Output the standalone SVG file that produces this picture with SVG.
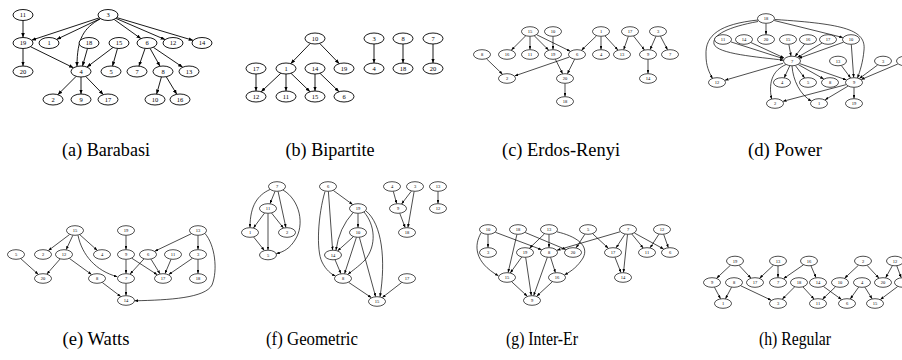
<svg xmlns="http://www.w3.org/2000/svg" width="902" height="360" viewBox="0 0 902 360">
<style>
.B ellipse{fill:#fff;stroke:#000;stroke-width:0.9}
.S ellipse{fill:#fff;stroke:#000;stroke-width:0.7}
.B text{font-size:6.5px;text-anchor:middle;fill:#000}
.S text{font-size:4.5px;text-anchor:middle;fill:#000}
.eb path{fill:none;stroke:#000;stroke-width:0.9;marker-end:url(#ab)}
.es path{fill:none;stroke:#000;stroke-width:0.7;marker-end:url(#as)}
.cap{font-size:18px;text-anchor:middle;fill:#000}
</style>
<defs>
<marker id="ab" viewBox="0 0 10 8" refX="10" refY="4" markerWidth="4.5" markerHeight="3.6" markerUnits="userSpaceOnUse" orient="auto"><path d="M0,0 L10,4 L0,8 z" fill="#000"/></marker>
<marker id="as" viewBox="0 0 10 8" refX="10" refY="4" markerWidth="3.5" markerHeight="2.8" markerUnits="userSpaceOnUse" orient="auto"><path d="M0,0 L10,4 L0,8 z" fill="#000"/></marker>
</defs>
<rect width="902" height="360" fill="#fff"/>
<g font-family="'Liberation Serif', 'Times New Roman', Times, serif">

<!-- (a) Barabasi -->
<g id="panel-a">
<g id="a-edges" class="eb">
<path d="M23,20.5 L23,37.5"/>
<path d="M99.4,17.8 L31.6,40.2"/>
<path d="M100.4,18.6 L56.6,39.4"/>
<path d="M100,19 C84,28 77,38 77,66.4"/>
<path d="M114.1,19.4 L140.9,38.6"/>
<path d="M115.9,18.4 L165.1,39.6"/>
<path d="M116.8,17.6 L193.2,40.4"/>
<path d="M23,48.5 L23,66"/>
<path d="M30.5,46.7 L73.5,67.8"/>
<path d="M87.5,48.4 L82.5,66.1"/>
<path d="M113.1,47.4 L86.9,67.1"/>
<path d="M117.5,48.4 L112.5,66.1"/>
<path d="M145.1,48.4 L138.9,66.1"/>
<path d="M150,48.3 L160,66.2"/>
<path d="M153.3,47.3 L182.7,67.2"/>
<path d="M76.2,76.3 L57.8,94.7"/>
<path d="M81,77 L81,94"/>
<path d="M85.7,76.4 L103.3,94.6"/>
<path d="M161.4,77 L156.6,94.1"/>
<path d="M166.2,76.7 L176.8,94.3"/>
</g>
<g class="B">
<g id="a11"><ellipse cx="23" cy="15" rx="10" ry="5.5"/><text x="23" y="17.2">11</text></g>
<g id="a3"><ellipse cx="108" cy="15" rx="10" ry="5.5"/><text x="108" y="17.2">3</text></g>
<g id="a19"><ellipse cx="23" cy="43" rx="10" ry="5.5"/><text x="23" y="45.2">19</text></g>
<g id="a1"><ellipse cx="49" cy="43" rx="10" ry="5.5"/><text x="49" y="45.2">1</text></g>
<g id="a18"><ellipse cx="89" cy="43" rx="10" ry="5.5"/><text x="89" y="45.2">18</text></g>
<g id="a15"><ellipse cx="119" cy="43" rx="10" ry="5.5"/><text x="119" y="45.2">15</text></g>
<g id="a6"><ellipse cx="147" cy="43" rx="10" ry="5.5"/><text x="147" y="45.2">6</text></g>
<g id="a12"><ellipse cx="173" cy="43" rx="10" ry="5.5"/><text x="173" y="45.2">12</text></g>
<g id="a14"><ellipse cx="202" cy="43" rx="10" ry="5.5"/><text x="202" y="45.2">14</text></g>
<g id="a20"><ellipse cx="23" cy="71.5" rx="10" ry="5.5"/><text x="23" y="73.7">20</text></g>
<g id="a4"><ellipse cx="81" cy="71.5" rx="10" ry="5.5"/><text x="81" y="73.7">4</text></g>
<g id="a5"><ellipse cx="111" cy="71.5" rx="10" ry="5.5"/><text x="111" y="73.7">5</text></g>
<g id="a7"><ellipse cx="137" cy="71.5" rx="10" ry="5.5"/><text x="137" y="73.7">7</text></g>
<g id="a8"><ellipse cx="163" cy="71.5" rx="10" ry="5.5"/><text x="163" y="73.7">8</text></g>
<g id="a13"><ellipse cx="189" cy="71.5" rx="10" ry="5.5"/><text x="189" y="73.7">13</text></g>
<g id="a2"><ellipse cx="53" cy="99.5" rx="10" ry="5.5"/><text x="53" y="101.7">2</text></g>
<g id="a9"><ellipse cx="81" cy="99.5" rx="10" ry="5.5"/><text x="81" y="101.7">9</text></g>
<g id="a17"><ellipse cx="108" cy="99.5" rx="10" ry="5.5"/><text x="108" y="101.7">17</text></g>
<g id="a10"><ellipse cx="155" cy="99.5" rx="10" ry="5.5"/><text x="155" y="101.7">10</text></g>
<g id="a16"><ellipse cx="180" cy="99.5" rx="10" ry="5.5"/><text x="180" y="101.7">16</text></g>
</g>
<text class="cap" x="106" y="156" textLength="88" lengthAdjust="spacingAndGlyphs">(a) Barabasi</text>
</g>

<!-- (b) Bipartite -->
<g id="panel-b">
<g id="b-edges" class="eb">
<path d="M310.3,43.4 L290.7,63.7"/>
<path d="M319.7,43.4 L339.3,63.7"/>
<path d="M374,44 L374,63"/>
<path d="M403,44 L403,63"/>
<path d="M433,44 L433,63"/>
<path d="M256,74 L256,91"/>
<path d="M280.9,73.2 L261.1,91.8"/>
<path d="M286,74 L286,91"/>
<path d="M291,73.3 L310,91.7"/>
<path d="M315,74 L315,91"/>
<path d="M320,73.3 L339,91.7"/>
</g>
<g class="B">
<g id="b10"><ellipse cx="315" cy="38.5" rx="10" ry="5.5"/><text x="315" y="40.7">10</text></g>
<g id="b3"><ellipse cx="374" cy="38.5" rx="10" ry="5.5"/><text x="374" y="40.7">3</text></g>
<g id="b8"><ellipse cx="403" cy="38.5" rx="10" ry="5.5"/><text x="403" y="40.7">8</text></g>
<g id="b7"><ellipse cx="433" cy="38.5" rx="10" ry="5.5"/><text x="433" y="40.7">7</text></g>
<g id="b17"><ellipse cx="256" cy="68.5" rx="10" ry="5.5"/><text x="256" y="70.7">17</text></g>
<g id="b1"><ellipse cx="286" cy="68.5" rx="10" ry="5.5"/><text x="286" y="70.7">1</text></g>
<g id="b14"><ellipse cx="315" cy="68.5" rx="10" ry="5.5"/><text x="315" y="70.7">14</text></g>
<g id="b19"><ellipse cx="344" cy="68.5" rx="10" ry="5.5"/><text x="344" y="70.7">19</text></g>
<g id="b4"><ellipse cx="374" cy="68.5" rx="10" ry="5.5"/><text x="374" y="70.7">4</text></g>
<g id="b18"><ellipse cx="403" cy="68.5" rx="10" ry="5.5"/><text x="403" y="70.7">18</text></g>
<g id="b20"><ellipse cx="433" cy="68.5" rx="10" ry="5.5"/><text x="433" y="70.7">20</text></g>
<g id="b12"><ellipse cx="256" cy="96.5" rx="10" ry="5.5"/><text x="256" y="98.7">12</text></g>
<g id="b11"><ellipse cx="286" cy="96.5" rx="10" ry="5.5"/><text x="286" y="98.7">11</text></g>
<g id="b15"><ellipse cx="315" cy="96.5" rx="10" ry="5.5"/><text x="315" y="98.7">15</text></g>
<g id="b6"><ellipse cx="344" cy="96.5" rx="10" ry="5.5"/><text x="344" y="98.7">6</text></g>
</g>
<text class="cap" x="330" y="156" textLength="89" lengthAdjust="spacingAndGlyphs">(b) Bipartite</text>
</g>

<!-- (c) Erdos-Renyi -->
<g id="panel-c">
<g id="c-edges" class="es">
<path d="M525.6,35.9 L511.4,50.1"/>
<path d="M530,36.5 L530,49.5"/>
<path d="M534.4,35.9 L548.6,50.1"/>
<path d="M536.8,34.8 L570.2,51.2"/>
<path d="M553,36.5 L553,49.5"/>
<path d="M596.5,35.8 L581.5,50.2"/>
<path d="M601,36.5 L601,49.5"/>
<path d="M605.1,36 L617.9,50"/>
<path d="M628.3,36.4 L623.7,49.6"/>
<path d="M633.6,36.1 L644.4,49.9"/>
<path d="M655.9,36.4 L650.1,49.6"/>
<path d="M660.5,36.3 L667.5,49.7"/>
<path d="M486.5,58.8 L502.5,74.2"/>
<path d="M569.3,57.1 L514.7,75.9"/>
<path d="M555.4,59.3 L562.6,73.7"/>
<path d="M574.6,59.3 L567.4,73.7"/>
<path d="M648,59.5 L648,73.5"/>
<path d="M565,83.5 L565,96.5"/>
</g>
<g class="S">
<g id="c15"><ellipse cx="530" cy="31.5" rx="8.5" ry="4.8"/><text x="530" y="33.1">15</text></g>
<g id="c10"><ellipse cx="553" cy="31.5" rx="8.5" ry="4.8"/><text x="553" y="33.1">10</text></g>
<g id="c1"><ellipse cx="601" cy="31.5" rx="8.5" ry="4.8"/><text x="601" y="33.1">1</text></g>
<g id="c17"><ellipse cx="630" cy="31.5" rx="8.5" ry="4.8"/><text x="630" y="33.1">17</text></g>
<g id="c3"><ellipse cx="658" cy="31.5" rx="8.5" ry="4.8"/><text x="658" y="33.1">3</text></g>
<g id="c8"><ellipse cx="482" cy="54.5" rx="8.5" ry="4.8"/><text x="482" y="56.1">8</text></g>
<g id="c16"><ellipse cx="507" cy="54.5" rx="8.5" ry="4.8"/><text x="507" y="56.1">16</text></g>
<g id="c11"><ellipse cx="530" cy="54.5" rx="8.5" ry="4.8"/><text x="530" y="56.1">11</text></g>
<g id="c19"><ellipse cx="553" cy="54.5" rx="8.5" ry="4.8"/><text x="553" y="56.1">19</text></g>
<g id="c6"><ellipse cx="577" cy="54.5" rx="8.5" ry="4.8"/><text x="577" y="56.1">6</text></g>
<g id="c4"><ellipse cx="601" cy="54.5" rx="8.5" ry="4.8"/><text x="601" y="56.1">4</text></g>
<g id="c13"><ellipse cx="622" cy="54.5" rx="8.5" ry="4.8"/><text x="622" y="56.1">13</text></g>
<g id="c9"><ellipse cx="648" cy="54.5" rx="8.5" ry="4.8"/><text x="648" y="56.1">9</text></g>
<g id="c7"><ellipse cx="670" cy="54.5" rx="8.5" ry="4.8"/><text x="670" y="56.1">7</text></g>
<g id="c2"><ellipse cx="507" cy="78.5" rx="8.5" ry="4.8"/><text x="507" y="80.1">2</text></g>
<g id="c20"><ellipse cx="565" cy="78.5" rx="8.5" ry="4.8"/><text x="565" y="80.1">20</text></g>
<g id="c14"><ellipse cx="648" cy="78.5" rx="8.5" ry="4.8"/><text x="648" y="80.1">14</text></g>
<g id="c18"><ellipse cx="565" cy="101.5" rx="8.5" ry="4.8"/><text x="565" y="103.1">18</text></g>
</g>
<text class="cap" x="561" y="156" textLength="118" lengthAdjust="spacingAndGlyphs">(c) Erdos-Renyi</text>
</g>

<!-- (d) Power -->
<g id="panel-d">
<g id="d-edges" class="es">
<path d="M766,23.5 L766,34.5"/>
<path d="M774.2,20.5 L842.8,37.5"/>
<path d="M775,19.5 C845,24 866,30 864,50 C863,62 860,71 857.5,78"/>
<path d="M758,20 C720,24 705,35 706,55 C706,66 709,72 712.5,78.5"/>
<path d="M758,21.5 C728,27 712,35 714,44 C717,54 758,57 783.6,60.2"/>
<path d="M730.9,41.9 L783.2,58.6"/>
<path d="M751,42.6 L784,57.9"/>
<path d="M788.9,44.5 L791,56"/>
<path d="M804.6,44.1 L795,56.4"/>
<path d="M821.9,43.2 L797.5,57.3"/>
<path d="M843.5,42.2 L798.8,58.3"/>
<path d="M851.3,44.5 L853.7,77.5"/>
<path d="M783,63.3 L725,80.2"/>
<path d="M789.75,65.8 L784.25,77.7"/>
<path d="M795.4,65.6 L804.6,77.9"/>
<path d="M798.3,64.6 L823.7,78.9"/>
<path d="M799.6,63.6 L846.4,79.9"/>
<path d="M786,64.5 C774,70 768,80 771.5,99"/>
<path d="M792,66 C793,80 800,95 811.5,101"/>
<path d="M841.4,65.6 L850.6,77.9"/>
<path d="M877.6,65 L859.4,78.5"/>
<path d="M897.8,64 L861.2,79.5"/>
<path d="M845.9,84.7 L783.1,101.3"/>
<path d="M847.9,86.2 L825.1,99.8"/>
<path d="M854,87.5 L854,98.5"/>
</g>
<g class="S">
<g id="d18"><ellipse cx="766" cy="18.5" rx="8.5" ry="4.8"/><text x="766" y="20.1">18</text></g>
<g id="d11"><ellipse cx="723" cy="39.5" rx="8.5" ry="4.8"/><text x="723" y="41.1">11</text></g>
<g id="d14"><ellipse cx="744" cy="39.5" rx="8.5" ry="4.8"/><text x="744" y="41.1">14</text></g>
<g id="d20"><ellipse cx="766" cy="39.5" rx="8.5" ry="4.8"/><text x="766" y="41.1">20</text></g>
<g id="d15"><ellipse cx="788" cy="39.5" rx="8.5" ry="4.8"/><text x="788" y="41.1">15</text></g>
<g id="d16"><ellipse cx="808" cy="39.5" rx="8.5" ry="4.8"/><text x="808" y="41.1">16</text></g>
<g id="d17"><ellipse cx="828" cy="39.5" rx="8.5" ry="4.8"/><text x="828" y="41.1">17</text></g>
<g id="d10"><ellipse cx="851" cy="39.5" rx="8.5" ry="4.8"/><text x="851" y="41.1">10</text></g>
<g id="d7"><ellipse cx="792" cy="61" rx="8.5" ry="4.8"/><text x="792" y="62.6">7</text></g>
<g id="d13"><ellipse cx="838" cy="61" rx="8.5" ry="4.8"/><text x="838" y="62.6">13</text></g>
<g id="d3"><ellipse cx="883" cy="61" rx="8.5" ry="4.8"/><text x="883" y="62.6">3</text></g>
<g id="d-cut"><ellipse cx="905" cy="61" rx="8.5" ry="4.8"/></g>
<g id="d12"><ellipse cx="717" cy="82.5" rx="8.5" ry="4.8"/><text x="717" y="84.1">12</text></g>
<g id="d4"><ellipse cx="782" cy="82.5" rx="8.5" ry="4.8"/><text x="782" y="84.1">4</text></g>
<g id="d5"><ellipse cx="808" cy="82.5" rx="8.5" ry="4.8"/><text x="808" y="84.1">5</text></g>
<g id="d8"><ellipse cx="830" cy="82.5" rx="8.5" ry="4.8"/><text x="830" y="84.1">8</text></g>
<g id="d9"><ellipse cx="854" cy="82.5" rx="8.5" ry="4.8"/><text x="854" y="84.1">9</text></g>
<g id="d2"><ellipse cx="775" cy="103.5" rx="8.5" ry="4.8"/><text x="775" y="105.1">2</text></g>
<g id="d1"><ellipse cx="819" cy="103.5" rx="8.5" ry="4.8"/><text x="819" y="105.1">1</text></g>
<g id="d19"><ellipse cx="854" cy="103.5" rx="8.5" ry="4.8"/><text x="854" y="105.1">19</text></g>
</g>
<text class="cap" x="785" y="156" textLength="74" lengthAdjust="spacingAndGlyphs">(d) Power</text>
</g>

<!-- (e) Watts -->
<g id="panel-e">
<g id="e-edges" class="es">
<path d="M69.6,234.5 L48.4,250.5"/>
<path d="M72.8,235.4 L66.2,249.6"/>
<path d="M79.8,234.7 L97.2,250.3"/>
<path d="M78,235.3 C82,255 96,271 117.3,276.7"/>
<path d="M126,235.5 L126,249.5"/>
<path d="M191.2,233.8 L154.8,251.2"/>
<path d="M198,235.5 L198,249.5"/>
<path d="M205,233.5 C215,245 218,270 212,285 C205,298 170,300 134.5,300.8"/>
<path d="M20.8,258.7 L38.2,274.3"/>
<path d="M60.1,259 L46.9,274"/>
<path d="M69.5,258.5 L91.5,274.5"/>
<path d="M126,259.5 L126,273.5"/>
<path d="M131.9,258.3 L157.2,274.7"/>
<path d="M143.9,259 L130.1,274"/>
<path d="M151,259.2 L160,273.8"/>
<path d="M171,259.4 L165,273.6"/>
<path d="M192.3,258.4 L168.7,274.6"/>
<path d="M198,259.5 L198,273.5"/>
<path d="M102.3,282.5 L120.7,296.5"/>
<path d="M126,283.5 L126,295.5"/>
</g>
<g class="S">
<g id="e15"><ellipse cx="75" cy="230.5" rx="8.5" ry="4.8"/><text x="75" y="232.1">15</text></g>
<g id="e19"><ellipse cx="126" cy="230.5" rx="8.5" ry="4.8"/><text x="126" y="232.1">19</text></g>
<g id="e13"><ellipse cx="198" cy="230.5" rx="8.5" ry="4.8"/><text x="198" y="232.1">13</text></g>
<g id="e5"><ellipse cx="16" cy="254.5" rx="8.5" ry="4.8"/><text x="16" y="256.1">5</text></g>
<g id="e2"><ellipse cx="43" cy="254.5" rx="8.5" ry="4.8"/><text x="43" y="256.1">2</text></g>
<g id="e12"><ellipse cx="64" cy="254.5" rx="8.5" ry="4.8"/><text x="64" y="256.1">12</text></g>
<g id="e4"><ellipse cx="102" cy="254.5" rx="8.5" ry="4.8"/><text x="102" y="256.1">4</text></g>
<g id="e9"><ellipse cx="126" cy="254.5" rx="8.5" ry="4.8"/><text x="126" y="256.1">9</text></g>
<g id="e6"><ellipse cx="148" cy="254.5" rx="8.5" ry="4.8"/><text x="148" y="256.1">6</text></g>
<g id="e11"><ellipse cx="173" cy="254.5" rx="8.5" ry="4.8"/><text x="173" y="256.1">11</text></g>
<g id="e3"><ellipse cx="198" cy="254.5" rx="8.5" ry="4.8"/><text x="198" y="256.1">3</text></g>
<g id="e20"><ellipse cx="43" cy="278.5" rx="8.5" ry="4.8"/><text x="43" y="280.1">20</text></g>
<g id="e8"><ellipse cx="97" cy="278.5" rx="8.5" ry="4.8"/><text x="97" y="280.1">8</text></g>
<g id="e7"><ellipse cx="126" cy="278.5" rx="8.5" ry="4.8"/><text x="126" y="280.1">7</text></g>
<g id="e17"><ellipse cx="163" cy="278.5" rx="8.5" ry="4.8"/><text x="163" y="280.1">17</text></g>
<g id="e18"><ellipse cx="198" cy="278.5" rx="8.5" ry="4.8"/><text x="198" y="280.1">18</text></g>
<g id="e14"><ellipse cx="126" cy="300.5" rx="8.5" ry="4.8"/><text x="126" y="302.1">14</text></g>
</g>
<text class="cap" x="96" y="345" textLength="67" lengthAdjust="spacingAndGlyphs">(e) Watts</text>
</g>

<!-- (f) Geometric -->
<g id="panel-f">
<g id="f-edges" class="es">
<path d="M275,191.4 L270,203.6"/>
<path d="M270,189.5 C258,195 250,205 250,227.5"/>
<path d="M278.1,191.5 L285.9,227.5"/>
<path d="M283,190 C300,200 305,225 295,240 C290,248 284,252 276.3,253.5"/>
<path d="M264.5,213.1 L253.5,227.9"/>
<path d="M271.6,213.1 L283.4,227.9"/>
<path d="M268,213.5 L268,250"/>
<path d="M253.7,237.1 L264.3,250.4"/>
<path d="M333.4,190.5 L352.6,204.5"/>
<path d="M328.4,191.5 L332.6,250"/>
<path d="M325,191.5 C318,215 316,250 322,262 C326,270 331,274 335.5,276"/>
<path d="M358,213.5 L358,227.5"/>
<path d="M353,212.7 Q339,228 336,250.2"/>
<path d="M364,212 C375,225 377,245 365,260 C358,267 352,271 348,274.2"/>
<path d="M366,211 C382,224 386,260 380,296.8"/>
<path d="M353.3,236.8 L337.7,250.8"/>
<path d="M356.4,237.4 L344.6,273.6"/>
<path d="M359.4,237.4 L375.6,296.6"/>
<path d="M335.1,259.9 L340.9,273.6"/>
<path d="M348.7,282.4 L371.3,297.6"/>
<path d="M401.7,282.5 L382.3,297.5"/>
<path d="M393.3,191.4 L396.7,203.6"/>
<path d="M411.4,191.1 L401.6,203.9"/>
<path d="M414.1,191.5 L407.9,227.5"/>
<path d="M399.8,213.4 L405.2,227.6"/>
<path d="M438,191.5 L438,203.5"/>
</g>
<g class="S">
<g id="f7"><ellipse cx="277" cy="186.5" rx="8.5" ry="4.8"/><text x="277" y="188.1">7</text></g>
<g id="f6"><ellipse cx="328" cy="186.5" rx="8.5" ry="4.8"/><text x="328" y="188.1">6</text></g>
<g id="f4"><ellipse cx="392" cy="186.5" rx="8.5" ry="4.8"/><text x="392" y="188.1">4</text></g>
<g id="f3"><ellipse cx="415" cy="186.5" rx="8.5" ry="4.8"/><text x="415" y="188.1">3</text></g>
<g id="f13"><ellipse cx="438" cy="186.5" rx="8.5" ry="4.8"/><text x="438" y="188.1">13</text></g>
<g id="f11"><ellipse cx="268" cy="208.5" rx="8.5" ry="4.8"/><text x="268" y="210.1">11</text></g>
<g id="f19"><ellipse cx="358" cy="208.5" rx="8.5" ry="4.8"/><text x="358" y="210.1">19</text></g>
<g id="f9"><ellipse cx="398" cy="208.5" rx="8.5" ry="4.8"/><text x="398" y="210.1">9</text></g>
<g id="f12"><ellipse cx="438" cy="208.5" rx="8.5" ry="4.8"/><text x="438" y="210.1">12</text></g>
<g id="f1"><ellipse cx="250" cy="232.5" rx="8.5" ry="4.8"/><text x="250" y="234.1">1</text></g>
<g id="f2"><ellipse cx="287" cy="232.5" rx="8.5" ry="4.8"/><text x="287" y="234.1">2</text></g>
<g id="f10"><ellipse cx="358" cy="232.5" rx="8.5" ry="4.8"/><text x="358" y="234.1">10</text></g>
<g id="f18"><ellipse cx="407" cy="232.5" rx="8.5" ry="4.8"/><text x="407" y="234.1">18</text></g>
<g id="f5"><ellipse cx="268" cy="255" rx="8.5" ry="4.8"/><text x="268" y="256.6">5</text></g>
<g id="f14"><ellipse cx="333" cy="255" rx="8.5" ry="4.8"/><text x="333" y="256.6">14</text></g>
<g id="f8"><ellipse cx="343" cy="278.5" rx="8.5" ry="4.8"/><text x="343" y="280.1">8</text></g>
<g id="f17"><ellipse cx="407" cy="278.5" rx="8.5" ry="4.8"/><text x="407" y="280.1">17</text></g>
<g id="f15"><ellipse cx="377" cy="301.5" rx="8.5" ry="4.8"/><text x="377" y="303.1">15</text></g>
</g>
<text class="cap" x="312" y="345" textLength="92" lengthAdjust="spacingAndGlyphs">(f) Geometric</text>
</g>

<!-- (g) Inter-Er -->
<g id="panel-g">
<g id="g-edges" class="es">
<path d="M488,234.5 L488,247.5"/>
<path d="M481,233 C474,245 474,262 498.4,275.8"/>
<path d="M495.4,232.3 L541.6,249.7"/>
<path d="M516.9,234.5 L508.1,272.5"/>
<path d="M525.2,232.5 L565.8,249.5"/>
<path d="M544.5,233.8 L529.5,248.2"/>
<path d="M549,234.5 L549,247.5"/>
<path d="M557,231.8 C575,236 590,245 583,258 C578,266 572,271 564.5,274.8"/>
<path d="M584.9,234.2 L576.1,247.8"/>
<path d="M592.7,233.8 L608.3,248.2"/>
<path d="M620,231.8 L557,250.2"/>
<path d="M624.9,234.2 L616.1,247.8"/>
<path d="M627.5,234.5 L623.5,272.5"/>
<path d="M631.8,234 L643.2,248"/>
<path d="M634.4,233 L663.6,249"/>
<path d="M658.9,234.2 L650.1,247.8"/>
<path d="M663.7,234.4 L668.3,247.6"/>
<path d="M521.7,257.1 L510.3,272.9"/>
<path d="M525.7,257.5 L531.3,295.5"/>
<path d="M550.6,257.4 L555.4,272.6"/>
<path d="M547.3,257.4 L533.7,295.6"/>
<path d="M511.7,281.8 L527.3,296.2"/>
<path d="M552.3,281.8 L536.7,296.2"/>
<path d="M615,257.4 L621,272.6"/>
</g>
<g class="S">
<g id="g10"><ellipse cx="488" cy="229.5" rx="8.5" ry="4.8"/><text x="488" y="231.1">10</text></g>
<g id="g18"><ellipse cx="518" cy="229.5" rx="8.5" ry="4.8"/><text x="518" y="231.1">18</text></g>
<g id="g13"><ellipse cx="549" cy="229.5" rx="8.5" ry="4.8"/><text x="549" y="231.1">13</text></g>
<g id="g5"><ellipse cx="588" cy="229.5" rx="8.5" ry="4.8"/><text x="588" y="231.1">5</text></g>
<g id="g7"><ellipse cx="628" cy="229.5" rx="8.5" ry="4.8"/><text x="628" y="231.1">7</text></g>
<g id="g12"><ellipse cx="662" cy="229.5" rx="8.5" ry="4.8"/><text x="662" y="231.1">12</text></g>
<g id="g3"><ellipse cx="488" cy="252.5" rx="8.5" ry="4.8"/><text x="488" y="254.1">3</text></g>
<g id="g19"><ellipse cx="525" cy="252.5" rx="8.5" ry="4.8"/><text x="525" y="254.1">19</text></g>
<g id="g8"><ellipse cx="549" cy="252.5" rx="8.5" ry="4.8"/><text x="549" y="254.1">8</text></g>
<g id="g20"><ellipse cx="573" cy="252.5" rx="8.5" ry="4.8"/><text x="573" y="254.1">20</text></g>
<g id="g17"><ellipse cx="613" cy="252.5" rx="8.5" ry="4.8"/><text x="613" y="254.1">17</text></g>
<g id="g11"><ellipse cx="647" cy="252.5" rx="8.5" ry="4.8"/><text x="647" y="254.1">11</text></g>
<g id="g6"><ellipse cx="670" cy="252.5" rx="8.5" ry="4.8"/><text x="670" y="254.1">6</text></g>
<g id="g15"><ellipse cx="507" cy="277.5" rx="8.5" ry="4.8"/><text x="507" y="279.1">15</text></g>
<g id="g16"><ellipse cx="557" cy="277.5" rx="8.5" ry="4.8"/><text x="557" y="279.1">16</text></g>
<g id="g14"><ellipse cx="623" cy="277.5" rx="8.5" ry="4.8"/><text x="623" y="279.1">14</text></g>
<g id="g9"><ellipse cx="532" cy="300.5" rx="8.5" ry="4.8"/><text x="532" y="302.1">9</text></g>
</g>
<text class="cap" x="542" y="345" textLength="72" lengthAdjust="spacingAndGlyphs">(g) Inter-Er</text>
</g>

<!-- (h) Regular -->
<g id="panel-h">
<g id="h-edges" class="es">
<path d="M730.4,265.3 L716.6,278.2"/>
<path d="M739.1,265.4 L750.9,278.1"/>
<path d="M773.4,265.3 L759.6,278.2"/>
<path d="M778,266 L778,277.5"/>
<path d="M803.4,264.9 L783.6,278.6"/>
<path d="M811,265.9 L816,277.6"/>
<path d="M858.4,265.3 L844.6,278.2"/>
<path d="M867.1,265.4 L878.9,278.1"/>
<path d="M892.3,265.8 L885.7,277.7"/>
<path d="M896.8,265.9 L901.2,277.6"/>
<path d="M714.5,287.3 L720.5,298.7"/>
<path d="M731.5,287.3 L725.5,298.7"/>
<path d="M740.8,285.8 L771.2,300.2"/>
<path d="M794.6,286.9 L782.4,299.1"/>
<path d="M803,287 L814,299"/>
<path d="M823.5,286.5 L841.5,299.5"/>
<path d="M835.5,286.8 L822.5,299.2"/>
<path d="M858.7,287.1 L850.3,298.9"/>
<path d="M864.9,287.2 L872.1,298.8"/>
<path d="M897.7,286.5 L880.4,299.5"/>
</g>
<g class="S">
<g id="h19"><ellipse cx="735" cy="261" rx="8.5" ry="4.8"/><text x="735" y="262.6">19</text></g>
<g id="h13"><ellipse cx="778" cy="261" rx="8.5" ry="4.8"/><text x="778" y="262.6">13</text></g>
<g id="h16"><ellipse cx="809" cy="261" rx="8.5" ry="4.8"/><text x="809" y="262.6">16</text></g>
<g id="h2"><ellipse cx="863" cy="261" rx="8.5" ry="4.8"/><text x="863" y="262.6">2</text></g>
<g id="h12"><ellipse cx="895" cy="261" rx="8.5" ry="4.8"/><text x="895" y="262.6">12</text></g>
<g id="h9"><ellipse cx="712" cy="282.5" rx="8.5" ry="4.8"/><text x="712" y="284.1">9</text></g>
<g id="h8"><ellipse cx="734" cy="282.5" rx="8.5" ry="4.8"/><text x="734" y="284.1">8</text></g>
<g id="h17"><ellipse cx="755" cy="282.5" rx="8.5" ry="4.8"/><text x="755" y="284.1">17</text></g>
<g id="h7"><ellipse cx="778" cy="282.5" rx="8.5" ry="4.8"/><text x="778" y="284.1">7</text></g>
<g id="h18"><ellipse cx="799" cy="282.5" rx="8.5" ry="4.8"/><text x="799" y="284.1">18</text></g>
<g id="h14"><ellipse cx="818" cy="282.5" rx="8.5" ry="4.8"/><text x="818" y="284.1">14</text></g>
<g id="h10"><ellipse cx="840" cy="282.5" rx="8.5" ry="4.8"/><text x="840" y="284.1">10</text></g>
<g id="h4"><ellipse cx="862" cy="282.5" rx="8.5" ry="4.8"/><text x="862" y="284.1">4</text></g>
<g id="h20"><ellipse cx="883" cy="282.5" rx="8.5" ry="4.8"/><text x="883" y="284.1">20</text></g>
<g id="h-cut"><ellipse cx="903" cy="282.5" rx="8.5" ry="4.8"/></g>
<g id="h1"><ellipse cx="723" cy="303.5" rx="8.5" ry="4.8"/><text x="723" y="305.1">1</text></g>
<g id="h3"><ellipse cx="778" cy="303.5" rx="8.5" ry="4.8"/><text x="778" y="305.1">3</text></g>
<g id="h11"><ellipse cx="818" cy="303.5" rx="8.5" ry="4.8"/><text x="818" y="305.1">11</text></g>
<g id="h6"><ellipse cx="847" cy="303.5" rx="8.5" ry="4.8"/><text x="847" y="305.1">6</text></g>
<g id="h15"><ellipse cx="875" cy="303.5" rx="8.5" ry="4.8"/><text x="875" y="305.1">15</text></g>
</g>
<text class="cap" x="795" y="345" textLength="72" lengthAdjust="spacingAndGlyphs">(h) Regular</text>
</g>
</g>
</svg>
